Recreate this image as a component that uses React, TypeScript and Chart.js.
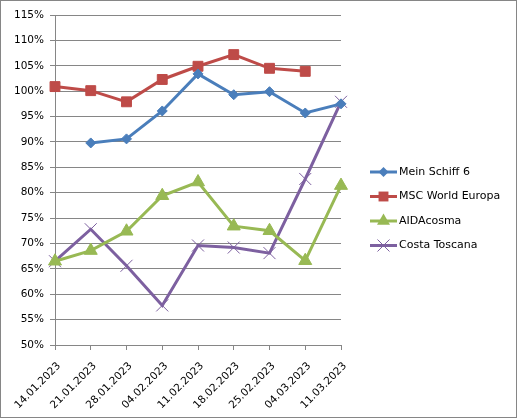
import React, { useEffect, useRef } from "react";
import { Chart, registerables } from "chart.js";

Chart.register(...registerables);

const categories = [
  "14.01.2023", "21.01.2023", "28.01.2023", "04.02.2023", "11.02.2023",
  "18.02.2023", "25.02.2023", "04.03.2023", "11.03.2023",
];
const meinSchiff6 = [null, 89.8, 90.6, 96.1, 103.4, 99.3, 99.9, 95.7, 97.5];
const mscWorldEuropa = [100.9, 100.1, 97.9, 102.3, 104.9, 107.2, 104.5, 103.9, null];
const aidaCosma = [66.5, 68.6, 72.4, 79.4, 82.1, 73.4, 72.5, 66.6, 81.4];
const costaToscana = [66.5, 72.8, 65.6, 57.8, 69.6, 69.2, 68.1, 82.7, 97.9];
const seriesNames = ["Mein Schiff 6", "MSC World Europa", "AIDAcosma", "Costa Toscana"];

const FONT = "'DejaVu Sans', sans-serif";
const GRID = "#868686";

function drawMarker(ctx: CanvasRenderingContext2D, style: string, x: number, y: number, r: number) {
  ctx.beginPath();
  if (style === "rectRot") {
    ctx.moveTo(x, y - r);
    ctx.lineTo(x + r, y);
    ctx.lineTo(x, y + r);
    ctx.lineTo(x - r, y);
    ctx.closePath();
    ctx.fill();
  } else if (style === "rect") {
    const s = r * Math.SQRT1_2;
    ctx.rect(x - s, y - s, 2 * s, 2 * s);
    ctx.fill();
  } else if (style === "triangle") {
    for (let k = 0; k < 3; k++) {
      const a = -Math.PI / 2 + (k * 2 * Math.PI) / 3;
      const px = x + Math.cos(a) * r;
      const py = y + Math.sin(a) * r;
      if (k === 0) ctx.moveTo(px, py); else ctx.lineTo(px, py);
    }
    ctx.closePath();
    ctx.fill();
  } else {
    const s = r * Math.SQRT1_2;
    ctx.lineWidth = 1;
    ctx.moveTo(x - s, y - s);
    ctx.lineTo(x + s, y + s);
    ctx.moveTo(x + s, y - s);
    ctx.lineTo(x - s, y + s);
    ctx.stroke();
  }
}

const legendPlugin = {
  id: "customLegend",
  afterDraw(chart: any) {
    const ctx = chart.ctx;
    const x0 = 370;
    const lineLen = 27;
    const yStart = 172;
    const step = 24.5;
    ctx.save();
    chart.data.datasets.forEach((ds: any, i: number) => {
      const y = yStart + i * step;
      ctx.strokeStyle = ds.borderColor;
      ctx.lineWidth = 3;
      ctx.beginPath();
      ctx.moveTo(x0, y);
      ctx.lineTo(x0 + lineLen, y);
      ctx.stroke();
      ctx.fillStyle = ds.pointBackgroundColor;
      ctx.strokeStyle = ds.pointBorderColor;
      drawMarker(ctx, ds.pointStyle, x0 + lineLen / 2, y, ds.pointRadius);
      ctx.fillStyle = "#000";
      ctx.font = `11px ${FONT}`;
      ctx.textAlign = "left";
      ctx.textBaseline = "middle";
      ctx.fillText(ds.label, x0 + lineLen + 2, y);
    });
    ctx.strokeStyle = GRID;
    ctx.lineWidth = 1;
    ctx.strokeRect(0.5, 0.5, chart.width - 1, chart.height - 1);
    ctx.restore();
  },
};

const bgPlugin = {
  id: "bg",
  beforeDraw(chart: any) {
    const ctx = chart.ctx;
    ctx.save();
    ctx.fillStyle = "#fff";
    ctx.fillRect(0, 0, chart.width, chart.height);
    ctx.restore();
  },
};

export default function App() {
  const ref = useRef<HTMLCanvasElement>(null);
  useEffect(() => {
    document.body.style.margin = "0";
    const mk = (label: string, data: any[], color: string, style: string, r: number, bw: number) => ({
      label,
      data,
      borderColor: color,
      backgroundColor: color,
      pointBackgroundColor: color,
      pointBorderColor: color,
      pointStyle: style,
      pointRadius: r,
      pointHoverRadius: r,
      pointBorderWidth: bw,
      borderWidth: 3,
      tension: 0,
      spanGaps: false,
    });
    const chart = new Chart(ref.current!, {
      type: "line",
      data: {
        labels: categories,
        datasets: [
          mk(seriesNames[0], meinSchiff6, "#4A7EBB", "rectRot", 5, 1),
          mk(seriesNames[1], mscWorldEuropa, "#BE4B48", "rect", 7, 1),
          mk(seriesNames[2], aidaCosma, "#98B954", "triangle", 7.5, 1),
          mk(seriesNames[3], costaToscana, "#7D60A0", "crossRot", 8.5, 1),
        ] as any,
      },
      options: {
        animation: false,
        responsive: false,
        devicePixelRatio: 1,
        layout: { padding: { top: 15, right: 176, left: 0, bottom: 0 } },
        plugins: { legend: { display: false }, tooltip: { enabled: false } },
        scales: {
          x: {
            offset: false,
            afterFit(scale: any) { scale.height = 73; },
            grid: { drawOnChartArea: false, drawTicks: true, tickLength: 5, color: GRID },
            border: { color: GRID, width: 1 },
            ticks: {
              color: "#000",
              font: { family: FONT, size: 10.5 },
              minRotation: 45,
              maxRotation: 45,
              autoSkip: false,
              padding: 10,
              labelOffset: 4,
            },
          },
          y: {
            min: 50,
            max: 115,
            afterFit(scale: any) { scale.width = 55; },
            grid: { color: GRID, tickLength: 5, drawTicks: true },
            border: { color: GRID, width: 1 },
            ticks: {
              stepSize: 5,
              color: "#000",
              font: { family: FONT, size: 10.5 },
              padding: 6,
              callback: (v: any) => `${v}%`,
            },
          },
        },
      },
      plugins: [bgPlugin, legendPlugin],
    });
    return () => chart.destroy();
  }, []);
  return <canvas ref={ref} width={517} height={418} style={{ display: "block" }} />;
}
